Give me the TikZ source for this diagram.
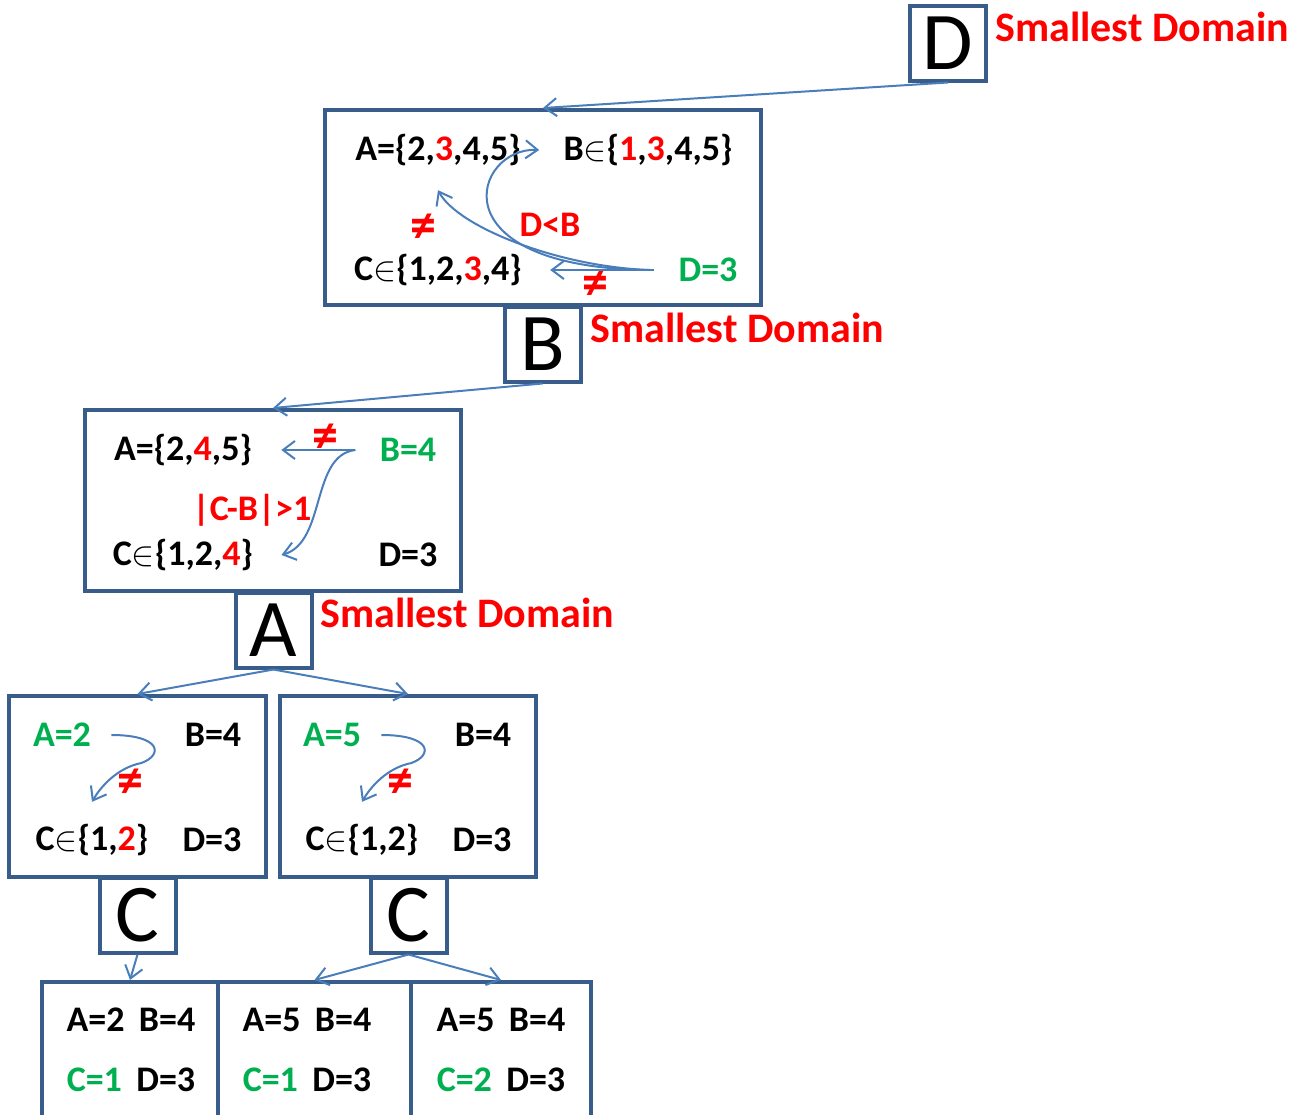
\documentclass[tikz,border=0pt]{standalone}
\usepackage{fontspec}
\setmainfont{Carlito}
\usetikzlibrary{arrows.meta}
\definecolor{boxblue}{HTML}{385D8A}
\definecolor{arrblue}{HTML}{4A7EBB}
\definecolor{okgreen}{HTML}{00B050}
\tikzset{every picture/.style = {x=0.5pt, y=0.5pt}}
\tikzset{frame/.style = {draw=boxblue, line width=2pt, inner sep=0}}
\tikzset{letter/.style = {frame, fill=white, minimum width=38pt, minimum height=37.5pt,
    font=\fontsize{41}{41}\selectfont}}
\tikzset{val/.style = {inner sep=0, font=\fontsize{18}{18}\selectfont\bfseries}}
\tikzset{why/.style = {val, text=red}}
\tikzset{neq/.style = {why, font=\fontsize{26}{26}\selectfont\bfseries}}
\tikzset{note/.style = {anchor=west, inner sep=0, text=red,
    font=\fontsize{21}{21}\selectfont\bfseries}}
\tikzset{link/.style = {draw=arrblue, line width=1pt,
    -{Straight Barb[length=6pt, width=9pt]}}}
\newcommand{\red}[1]{\textcolor{red}{#1}}

\begin{document}
\begin{tikzpicture}
  \useasboundingbox (0,0) rectangle (1296,-1114);

  % first choice: D
  \node[letter] (dD) at (948,-43) {D};
  \node[note] at (995,-27) {Smallest Domain};
  \node[frame, minimum width=218pt, minimum height=97.5pt] (s1) at (543,-207.5) {};
  \node[val] (a1) at (438,-150) {A=\{2,\red{3},4,5\}};
  \node[val] (b1) at (648,-150) {B$\in$\{\red{1},\red{3},4,5\}};
  \node[val] (c1) at (438,-270) {C$\in$\{1,2,\red{3},4\}};
  \node[val, text=okgreen] (d1) at (708,-270) {D=3};
  \node[neq] at (423,-228) {≠};
  \node[why] at (550,-225) {D<B};
  \node[neq] at (595,-285) {≠};
  \draw[link] ([xshift=-12pt]d1.west) -- ([xshift=14pt]c1.east);
  \draw[link] ([xshift=-14pt]d1.west)
    .. controls +(-91,3) and +(20,-37) .. ([yshift=-12pt]a1.south);
  \draw[link] ([xshift=-15pt]d1.west)
    .. controls +(-215,3) and +(-65,3) .. ([xshift=-12pt]b1.west);

  % second choice: B
  \node[letter] (bB) at (542.5,-344) {B};
  \node[note] at (590,-328) {Smallest Domain};
  \node[frame, minimum width=188pt, minimum height=90.5pt] (s2) at (273,-500.5) {};
  \node[val] (a2) at (183,-450) {A=\{2,\red{4},5\}};
  \node[val, text=okgreen] (b2) at (408,-450) {B=4};
  \node[why] at (252,-510) {|C-B|>1};
  \node[val] (c2) at (183,-555) {C$\in$\{1,2,\red{4}\}};
  \node[val] (d2) at (408,-555) {D=3};
  \node[neq] at (325,-438) {≠};
  \draw[link] ([xshift=-12pt]b2.west) -- ([xshift=14.5pt]a2.east);
  \draw[link] ([xshift=-12pt]b2.west)
    .. controls +(-45,-5) and +(45,13) .. ([xshift=14pt]c2.east);

  % third choice: A
  \node[letter] (aA) at (273.5,-630) {A};
  \node[note] at (320,-613) {Smallest Domain};
  \node[frame, minimum width=128.5pt, minimum height=90.5pt] (s3) at (137.5,-786.5) {};
  \node[frame, minimum width=128pt, minimum height=90.5pt] (s4) at (408,-786.5) {};
  \node[val, text=okgreen] (a3) at (62,-735) {A=2};
  \node[val] (b3) at (213,-735) {B=4};
  \node[val] (c3) at (92,-840) {C$\in$\{1,\red{2}\}};
  \node[val] (d3) at (212,-840) {D=3};
  \node[neq] at (130,-783) {≠};
  \node[val, text=okgreen] (a4) at (332,-735) {A=5};
  \node[val] (b4) at (483,-735) {B=4};
  \node[val] (c4) at (362,-840) {C$\in$\{1,2\}};
  \node[val] (d4) at (482,-840) {D=3};
  \node[neq] at (400,-783) {≠};
  \draw[link] ([xshift=10pt]a3.east)
    .. controls +(50,0) and +(22,8) .. ++(30,-28)
    .. controls +(-25,-5) and +(8,14) .. ([yshift=11pt]c3.north);
  \draw[link] ([xshift=10pt]a4.east)
    .. controls +(50,0) and +(22,8) .. ++(30,-28)
    .. controls +(-25,-5) and +(8,14) .. ([yshift=11pt]c4.north);
  \draw[link] (aA.south) -- (s3.north);
  \draw[link] (aA.south) -- (s4.north);

  % last choice: C
  \node[letter] (cC1) at (137.5,-915) {C};
  \node[letter] (cC2) at (408.5,-915) {C};
  \node[frame, minimum width=88pt, minimum height=79pt] (s5) at (130,-1061) {};
  \node[frame, minimum width=96.5pt, minimum height=79pt] (s6) at (314.5,-1061) {};
  \node[frame, minimum width=90pt, minimum height=79pt] (s7) at (501,-1061) {};
  \node[val] at (131,-1020) {A=2\hspace{0.4em}B=4};
  \node[val] at (131,-1080) {\textcolor{okgreen}{C=1}\hspace{0.4em}D=3};
  \node[val] at (307,-1020) {A=5\hspace{0.4em}B=4};
  \node[val] at (307,-1080) {\textcolor{okgreen}{C=1}\hspace{0.4em}D=3};
  \node[val] at (501,-1020) {A=5\hspace{0.4em}B=4};
  \node[val] at (501,-1080) {\textcolor{okgreen}{C=2}\hspace{0.4em}D=3};
  \draw[link] (cC1.south) -- (s5.north);
  \draw[link] (cC2.south) -- (s6.north);
  \draw[link] (cC2.south) -- (s7.north);

  \draw[link] (dD.south) -- (s1.north);
  \draw[link] (bB.south) -- (s2.north);
\end{tikzpicture}
\end{document}
